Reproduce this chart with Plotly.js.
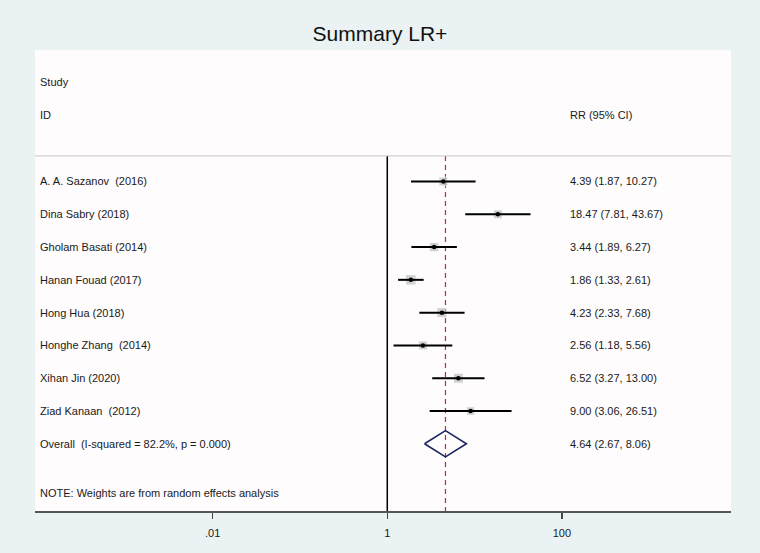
<!DOCTYPE html>
<html>
<head>
<meta charset="utf-8">
<script src="https://cdn.plot.ly/plotly-3.0.1.min.js"></script>
<style>html,body{margin:0;padding:0;background:#EAF2F3;}#chart{width:760px;height:553px;}</style>
</head>
<body>
<div id="chart"></div>
<script>
// ---- data ----
var studies = ["A. A. Sazanov  (2016)", "Dina Sabry (2018)", "Gholam Basati (2014)", "Hanan Fouad (2017)",
               "Hong Hua (2018)", "Honghe Zhang  (2014)", "Xihan Jin (2020)", "Ziad Kanaan  (2012)"];
var rr    = [4.39, 18.47, 3.44, 1.86, 4.23, 2.56, 6.52, 9.00];
var lower = [1.87, 7.81, 1.89, 1.33, 2.33, 1.18, 3.27, 3.06];
var upper = [10.27, 43.67, 6.27, 2.61, 7.68, 5.56, 13.00, 26.51];
var weightBox = [9, 9, 9.5, 10.5, 10, 9, 10, 8.5]; // relative box sizes (estimated)
var overallLabel = "Overall  (I-squared = 82.2%, p = 0.000)";
var overall = {est: 4.64, lo: 2.67, hi: 8.06};
var tickVals = [0.01, 1, 100];
var tickText = [".01", "1", "100"];
var noteText = "NOTE: Weights are from random effects analysis";

function fmt(v){ return v.toFixed(2); }

var n = studies.length;
var rows = studies.map(function(_, i){ return i; });
var overallRow = n;
var yTop = -0.78, yBottom = 10.05;

var traces = [];
// reference line at 1
traces.push({x:[1,1], y:[yTop, yBottom], mode:'lines', line:{color:'#000', width:1.5}, hoverinfo:'skip', showlegend:false});
// overall dashed line
traces.push({x:[overall.est, overall.est], y:[yTop, yBottom], mode:'lines', line:{color:'#C0283C', width:1.2, dash:'5px,4px'}, hoverinfo:'skip', showlegend:false});
// weight boxes
traces.push({x:rr, y:rows, mode:'markers', marker:{symbol:'square', size:weightBox, color:'#BFBFBF'}, hoverinfo:'skip', showlegend:false});
// CI lines
var cx = [], cy = [];
for (var i = 0; i < n; i++){ cx.push(lower[i], upper[i], null); cy.push(rows[i], rows[i], null); }
traces.push({x:cx, y:cy, mode:'lines', line:{color:'#000', width:2}, hoverinfo:'skip', showlegend:false});
// point estimates
traces.push({x:rr, y:rows, mode:'markers', marker:{symbol:'circle', size:4.5, color:'#000'}, hoverinfo:'skip', showlegend:false});
// diamond
var h = 0.4;
traces.push({x:[overall.lo, overall.est, overall.hi, overall.est, overall.lo],
             y:[overallRow, overallRow - h, overallRow, overallRow + h, overallRow],
             mode:'lines', line:{color:'#1C2461', width:1.6}, hoverinfo:'skip', showlegend:false});

var textFont = {family:'Liberation Sans, Arial, sans-serif', size:11, color:'#1a1a1a'};
var ann = [];
var leftX = 0.0043, rightX = 0.7655;
ann.push({xref:'paper', yref:'y', x:leftX, y:-3.03, text:'Study', showarrow:false, xanchor:'left', yanchor:'middle', font:textFont});
ann.push({xref:'paper', yref:'y', x:leftX, y:-2.03, text:'ID', showarrow:false, xanchor:'left', yanchor:'middle', font:textFont});
ann.push({xref:'paper', yref:'y', x:rightX, y:-2.03, text:'RR (95% CI)', showarrow:false, xanchor:'left', yanchor:'middle', font:textFont});
for (var j = 0; j < n; j++){
  ann.push({xref:'paper', yref:'y', x:leftX, y:rows[j], text:studies[j], showarrow:false, xanchor:'left', yanchor:'middle', font:textFont});
  ann.push({xref:'paper', yref:'y', x:rightX, y:rows[j], text:fmt(rr[j]) + ' (' + fmt(lower[j]) + ', ' + fmt(upper[j]) + ')', showarrow:false, xanchor:'left', yanchor:'middle', font:textFont});
}
ann.push({xref:'paper', yref:'y', x:leftX, y:overallRow, text:overallLabel, showarrow:false, xanchor:'left', yanchor:'middle', font:textFont});
ann.push({xref:'paper', yref:'y', x:rightX, y:overallRow, text:fmt(overall.est) + ' (' + fmt(overall.lo) + ', ' + fmt(overall.hi) + ')', showarrow:false, xanchor:'left', yanchor:'middle', font:textFont});
ann.push({xref:'paper', yref:'y', x:leftX, y:9.5, text:noteText, showarrow:false, xanchor:'left', yanchor:'middle', font:textFont});

var layout = {
  width:760, height:553,
  margin:{l:35, r:29, t:50, b:42, pad:0},
  paper_bgcolor:'#EAF2F3',
  plot_bgcolor:'#FEFCFD',
  title:{text:'Summary LR+', x:0.5, xanchor:'center', y:1 - 34/553, yref:'container', yanchor:'middle',
         font:{family:'Liberation Sans, Arial, sans-serif', size:21, color:'#111'}},
  xaxis:{type:'log', range:[-4.035, 3.937], autorange:false, tickvals:tickVals, ticktext:tickText,
         ticks:'outside', ticklen:6, tickwidth:1.5, tickcolor:'#444', ticklabelstandoff:5, showgrid:false, zeroline:false,
         showline:true, linecolor:'#555', linewidth:2, mirror:false,
         tickfont:{family:'Liberation Sans, Arial, sans-serif', size:11, color:'#1a1a1a'}, fixedrange:true},
  yaxis:{range:[yBottom, yTop - 3.23], autorange:false, visible:false, showgrid:false, zeroline:false, fixedrange:true},
  shapes:[{type:'line', xref:'paper', yref:'y', x0:0, x1:1, y0:yTop, y1:yTop, line:{color:'#C8C8C8', width:1}}],
  annotations:ann,
  showlegend:false
};

Plotly.newPlot('chart', traces, layout, {staticPlot:true, displayModeBar:false});
</script>
</body>
</html>
